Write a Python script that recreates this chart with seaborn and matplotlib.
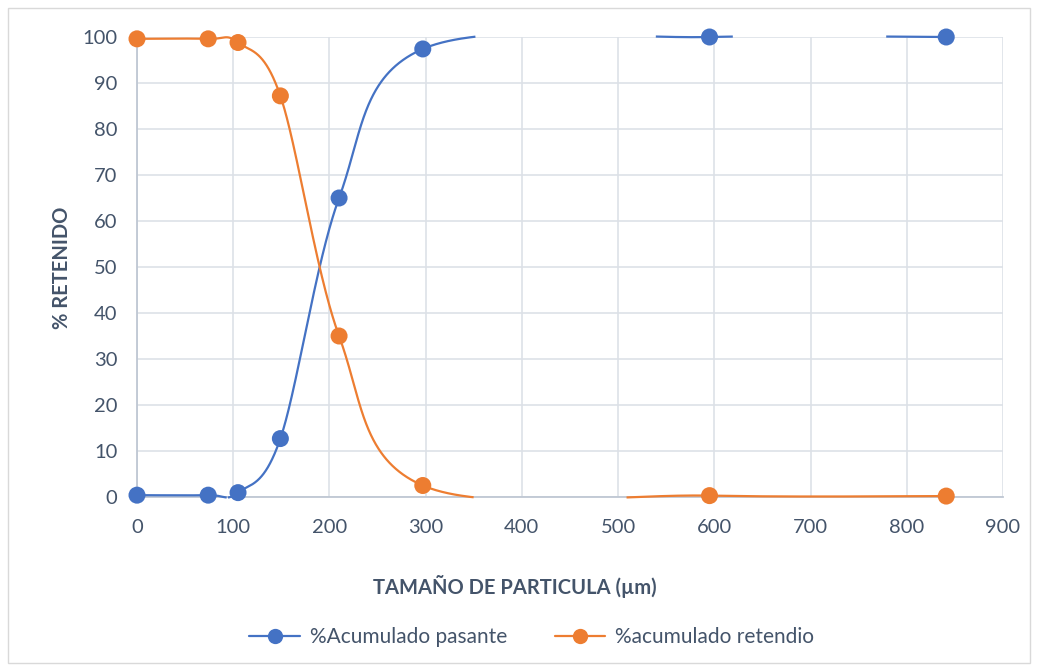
import numpy as np
import matplotlib
matplotlib.use("Agg")
import matplotlib.pyplot as plt
from matplotlib.lines import Line2D
from matplotlib.patches import Rectangle
import seaborn as sns
import pandas as pd

# ---- data ----
tamano = [0, 74, 105, 149, 210, 297, 595, 841]
pasante = [0.4, 0.4, 0.95, 12.7, 65.0, 97.4, 100.0, 100.0]
retenido = [99.6, 99.6, 98.8, 87.2, 35.0, 2.5, 0.3, 0.2]
x_ticks = [0, 100, 200, 300, 400, 500, 600, 700, 800, 900]
y_ticks = [0, 10, 20, 30, 40, 50, 60, 70, 80, 90, 100]
serie_pasante = "%Acumulado pasante"
serie_retenido = "%acumulado retendio"
x_title = "TAMAÑO DE PARTICULA (µm)"
y_title = "% RETENIDO"

BLUE = "#4472C4"
ORANGE = "#ED7D31"
TXT = "#44546A"
GRID = "#DDE1E7"
YMIN, YMAX = 0, 100


def excel_smooth(xs, ys, n=150):
    """Excel-style smoothed line: cubic Bezier with 1/6 tangent control points."""
    xs = np.asarray(xs, float)
    ys = np.asarray(ys, float)
    P = np.column_stack([xs, ys])
    m = len(P)
    out = []
    t = np.linspace(0, 1, n)[:, None]
    for i in range(m - 1):
        p0 = P[i]
        p3 = P[i + 1]
        pm = P[i - 1] if i > 0 else P[i]
        pp = P[i + 2] if i + 2 < m else P[i + 1]
        c1 = p0 + (p3 - pm) / 6.0
        c2 = p3 - (pp - p0) / 6.0
        seg = ((1 - t) ** 3) * p0 + 3 * ((1 - t) ** 2) * t * c1 + 3 * (1 - t) * t ** 2 * c2 + t ** 3 * p3
        out.append(seg if i == 0 else seg[1:])
    arr = np.vstack(out)
    return arr[:, 0], arr[:, 1]


sns.set_theme(style="white")
plt.rcParams["font.family"] = ["Lato", "DejaVu Sans"]

fig = plt.figure(figsize=(10.38, 6.71), dpi=100)
ax = fig.add_axes([137 / 1038, 1 - 497 / 671, (1003 - 137) / 1038, (497 - 37) / 671])

# outer chart border
fig.patches.append(Rectangle((8 / 1038, 8 / 671), 1022 / 1038, 655 / 671,
                             transform=fig.transFigure, fill=False,
                             edgecolor="#D9D9D9", linewidth=1.0))

df = pd.DataFrame({"x": tamano + tamano,
                   "y": pasante + retenido,
                   "serie": [serie_pasante] * len(tamano) + [serie_retenido] * len(tamano)})

tol = 0.1
for name, ys, col in [(serie_pasante, pasante, BLUE), (serie_retenido, retenido, ORANGE)]:
    sx, sy = excel_smooth(tamano, ys)
    sy = np.where((sy > YMAX + tol) | (sy < YMIN - tol), np.nan, sy)
    ax.plot(sx, sy, color=col, lw=1.6, zorder=3, solid_capstyle="butt", clip_on=False)

sns.scatterplot(data=df, x="x", y="y", hue="serie",
                palette={serie_pasante: BLUE, serie_retenido: ORANGE},
                s=150, edgecolor="none", linewidth=0, ax=ax, legend=False, zorder=4)
for coll in ax.collections:
    coll.set_clip_on(False)

ax.set_xlim(0, 900)
ax.set_ylim(YMIN, YMAX)
ax.set_xticks(x_ticks)
ax.set_yticks(y_ticks)
ax.grid(True, color=GRID, lw=1.2)
ax.set_axisbelow(True)
for s in ["top", "right"]:
    ax.spines[s].set_visible(False)
ax.spines["left"].set_color("#BFC7D3")
ax.spines["bottom"].set_color("#BFC7D3")
ax.spines["left"].set_linewidth(1.3)
ax.spines["bottom"].set_linewidth(1.3)
ax.tick_params(axis="both", length=0, labelsize=14.5, labelcolor=TXT)
ax.tick_params(axis="x", pad=16)
ax.tick_params(axis="y", pad=14)
ax.set_xlabel("")
ax.set_ylabel("")

fig.text(515 / 1038, 1 - 587 / 671, x_title, ha="center", va="center",
         fontsize=14.5, fontweight="bold", color=TXT)
fig.text(62 / 1038, 1 - 268 / 671, y_title, ha="center", va="center",
         rotation=90, fontsize=14.5, fontweight="bold", color=TXT)

handles = [Line2D([0], [0], color=BLUE, lw=1.6, marker="o", markersize=11, markeredgewidth=0),
           Line2D([0], [0], color=ORANGE, lw=1.6, marker="o", markersize=11, markeredgewidth=0)]
leg = fig.legend(handles, [serie_pasante, serie_retenido], loc="center",
                 bbox_to_anchor=(532 / 1038, 1 - 637 / 671), ncol=2, frameon=False,
                 fontsize=15, handlelength=2.4, handletextpad=0.5, columnspacing=2.3)
for t in leg.get_texts():
    t.set_color(TXT)

fig.savefig("out.png", dpi=100)
